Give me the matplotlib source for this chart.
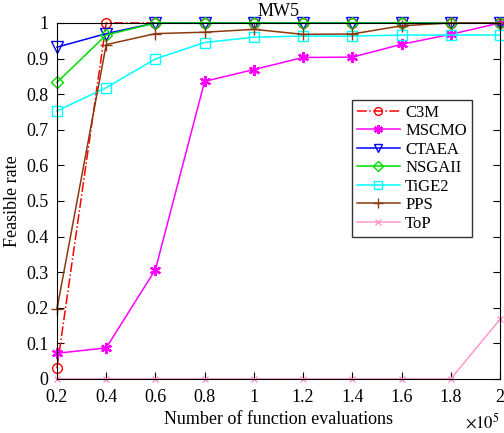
import matplotlib.pyplot as plt
import numpy as np

plt.rcParams['font.family'] = ['Liberation Serif', 'DejaVu Serif']
plt.rcParams['mathtext.fontset'] = 'stix'

# x in units of 1e5 function evaluations
evals = [0.2, 0.4, 0.6, 0.8, 1.0, 1.2, 1.4, 1.6, 1.8, 2.0]
c3m = [0.03, 1, 1, 1, 1, 1, 1, 1, 1, 1]
mscmo = [0.072, 0.087, 0.307, 0.836, 0.869, 0.903, 0.904, 0.940, 0.968, 1.0]
ctaea = [0.932, 0.970, 1, 1, 1, 1, 1, 1, 1, 1]
nsgaii = [0.833, 0.966, 1, 1, 1, 1, 1, 1, 1, 1]
tige2 = [0.753, 0.818, 0.899, 0.945, 0.960, 0.963, 0.963, 0.966, 0.966, 0.966]
pps = [0.196, 0.939, 0.970, 0.974, 0.982, 0.968, 0.969, 0.992, 1.0, 1.0]
top = [0, 0, 0, 0, 0, 0, 0, 0, 0, 0.167]

fig = plt.figure(figsize=(5.04, 4.33), dpi=100)
ax = fig.add_axes([0.113, 0.125, 0.879, 0.822])

lw = 1.1
kw = dict(lw=lw, clip_on=False)
ax.plot(evals, c3m, color='red', linestyle='-.', marker='o', mfc='none', ms=7, label='C3M', **kw)
ax.plot(evals, mscmo, color='magenta', marker=(6, 2, 0), ms=8, mew=1.6, label='MSCMO', **kw)
ax.plot(evals, ctaea, color='blue', marker='v', mfc='none', ms=8, label='CTAEA', **kw)
ax.plot(evals, nsgaii, color='#00dd00', marker='D', mfc='none', ms=6, label='NSGAII', **kw)
ax.plot(evals, tige2, color='cyan', marker='s', mfc='none', ms=6.5, label='TiGE2', **kw)
ax.plot(evals, pps, color='#8b3a0f', marker='+', ms=9, label='PPS', **kw)
ax.plot(evals, top, color='#ff99cc', marker='x', ms=5, label='ToP', **kw)

ax.set_xlim(0.2, 2)
ax.set_ylim(0, 1)
ax.set_xticks(evals)
ax.set_xticklabels(['0.2', '0.4', '0.6', '0.8', '1', '1.2', '1.4', '1.6', '1.8', '2'])
ax.set_yticks(np.arange(0, 1.01, 0.1))
ax.set_yticklabels(['0', '0.1', '0.2', '0.3', '0.4', '0.5', '0.6', '0.7', '0.8', '0.9', '1'])
ax.tick_params(direction='in', labelsize=13, length=5, top=False, right=True)
ax.tick_params(axis='x', pad=7)
ax.tick_params(axis='y', pad=6)
ax.set_xlabel('Number of function evaluations', fontsize=13, labelpad=4)
ax.set_ylabel('Feasible rate', fontsize=13, labelpad=4)
ax.set_title('MW5', fontsize=13, pad=5)
ax.text(1.0, -0.095, r'$\times10^5$', transform=ax.transAxes, ha='right', va='top', fontsize=12)

ax.legend(loc='upper right', bbox_to_anchor=(0.955, 0.808), fontsize=12, frameon=True,
          fancybox=False, edgecolor='#333333', framealpha=1, borderpad=0.3,
          labelspacing=0.15, handlelength=2.6, handletextpad=0.3, markerscale=0.8)

fig.savefig('out.png', dpi=100)
